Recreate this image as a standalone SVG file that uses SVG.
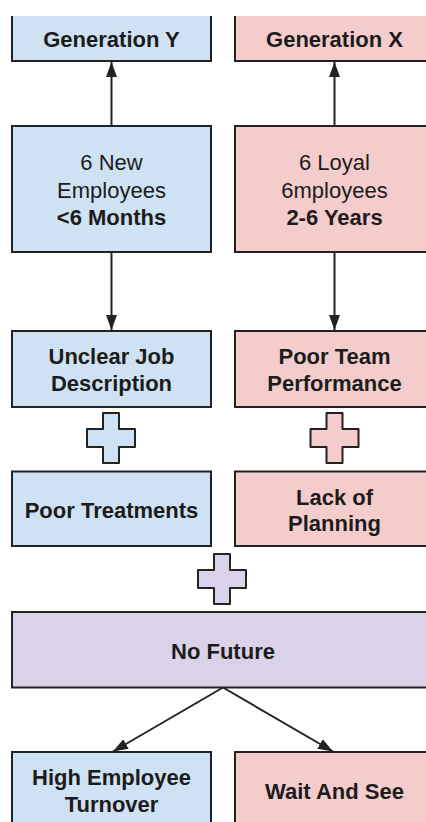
<svg xmlns="http://www.w3.org/2000/svg" xmlns:xlink="http://www.w3.org/1999/xlink" width="426" height="822" viewBox="0 0 426 822">
<style>
.box{stroke:#222;stroke-width:2;}
.blue{fill:#cfe2f3;}
.pink{fill:#f4cccc;}
.purple{fill:#d9d2e9;}
.edge{fill:none;stroke:#222;stroke-width:2;}
.plus{stroke:#222;stroke-width:2;stroke-linejoin:round;}
text{font-family:"Liberation Sans",Arial,sans-serif;font-size:22px;fill:#1c1c1c;text-anchor:middle;}
.b{font-weight:bold;}
</style>
<defs>
<marker id="arr" markerUnits="userSpaceOnUse" markerWidth="15" markerHeight="12" refX="15" refY="6" orient="auto">
<path d="M0,0.5 L15,6 L0,11.5 Z" fill="#222"/>
</marker>
<path id="plusShape" d="M-8,-25 H8 V-9 H24 V9 H8 V25 H-8 V9 H-24 V-9 H-8 Z"/>
</defs>
<rect width="426" height="822" fill="#fff"/>

<g id="genY">
<rect x="12" y="16" width="199" height="45" class="blue"/>
<path d="M12,16 V61 H211 V16" class="edge"/>
<text x="111.5" y="46.5" class="b">Generation Y</text>
</g>
<g id="genX">
<rect x="235" y="16" width="199" height="45" class="pink"/>
<path d="M235,16 V61 H434 V16" class="edge"/>
<text x="334.5" y="46.5" class="b">Generation X</text>
</g>

<g id="newEmployees">
<rect x="12" y="126" width="199" height="126" class="box blue"/>
<text x="111.5" y="170">6 New</text>
<text x="111.5" y="197.5">Employees</text>
<text x="111.5" y="225" class="b">&lt;6 Months</text>
</g>
<g id="loyalEmployees">
<rect x="235" y="126" width="199" height="126" class="box pink"/>
<text x="334.5" y="170">6 Loyal</text>
<text x="334.5" y="197.5">6mployees</text>
<text x="334.5" y="225" class="b">2-6 Years</text>
</g>

<g id="unclearJob">
<rect x="12" y="331" width="199" height="76" class="box blue"/>
<text x="111.5" y="363.5" class="b">Unclear Job</text>
<text x="111.5" y="391" class="b">Description</text>
</g>
<g id="poorTeam">
<rect x="235" y="331" width="199" height="76" class="box pink"/>
<text x="334.5" y="363.5" class="b">Poor Team</text>
<text x="334.5" y="391" class="b">Performance</text>
</g>

<g id="plusBlue"><use xlink:href="#plusShape" transform="translate(111,438)" class="plus blue"/></g>
<g id="plusPink"><use xlink:href="#plusShape" transform="translate(334.5,438)" class="plus pink"/></g>

<g id="poorTreatments">
<rect x="12" y="471.5" width="199" height="74.5" class="box blue"/>
<text x="111.5" y="517.5" class="b">Poor Treatments</text>
</g>
<g id="lackPlanning">
<rect x="235" y="471.5" width="199" height="74.5" class="box pink"/>
<text x="334.5" y="504.5" class="b">Lack of</text>
<text x="334.5" y="530.5" class="b">Planning</text>
</g>

<g id="plusPurple"><use xlink:href="#plusShape" transform="translate(222,579)" class="plus purple"/></g>

<g id="noFuture">
<rect x="12" y="612" width="422" height="75.5" class="box purple"/>
<text x="223" y="658.5" class="b">No Future</text>
</g>

<g id="turnover">
<rect x="12" y="752" width="199" height="80" class="box blue"/>
<text x="111.5" y="785" class="b">High Employee</text>
<text x="111.5" y="812" class="b">Turnover</text>
</g>
<g id="waitSee">
<rect x="235" y="752" width="199" height="80" class="box pink"/>
<text x="334.5" y="798.5" class="b">Wait And See</text>
</g>

<g id="connectors">
<line x1="111.5" y1="126" x2="111.5" y2="62" class="edge" marker-end="url(#arr)"/>
<line x1="334.5" y1="126" x2="334.5" y2="62" class="edge" marker-end="url(#arr)"/>
<line x1="111.5" y1="252" x2="111.5" y2="330" class="edge" marker-end="url(#arr)"/>
<line x1="334.5" y1="252" x2="334.5" y2="330" class="edge" marker-end="url(#arr)"/>
<line x1="223" y1="687.5" x2="113" y2="751.5" class="edge" marker-end="url(#arr)"/>
<line x1="223" y1="687.5" x2="333" y2="751.5" class="edge" marker-end="url(#arr)"/>
</g>
</svg>
